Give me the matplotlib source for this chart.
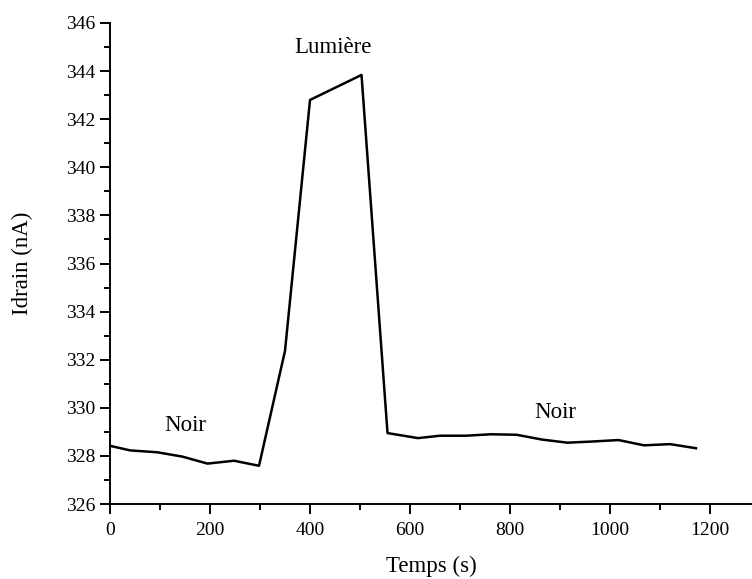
import matplotlib
matplotlib.use('Agg')
import matplotlib.pyplot as plt
from matplotlib.ticker import MultipleLocator

# Temps (s) et courant de drain (nA)
temps = [0, 40, 95, 145, 195, 248, 298, 350, 400, 503, 555, 616, 660, 712,
         762, 813, 864, 915, 966, 1017, 1068, 1120, 1172]
idrain = [328.42, 328.23, 328.15, 327.97, 327.68, 327.80, 327.59, 332.37,
          342.80, 343.84, 328.95, 328.74, 328.84, 328.84, 328.90, 328.88,
          328.68, 328.55, 328.60, 328.66, 328.44, 328.49, 328.32]

labels = ['Noir', 'Lumière', 'Noir']
label_x = [150, 446, 891]
label_y = [329.25, 345.0, 329.8]

plt.rcParams['font.family'] = ['Liberation Serif', 'DejaVu Serif']

fig = plt.figure(figsize=(7.52, 5.79), dpi=100)
ax = fig.add_axes([0.1463, 0.1295, 0.8537, 0.8308])
ax.plot(temps, idrain, color='black', linewidth=1.8)

for txt, x, y in zip(labels, label_x, label_y):
    ax.text(x, y, txt, fontsize=16.5, ha='center', va='center')

ax.set_xlim(0, 1284)
ax.set_ylim(326, 346)
ax.xaxis.set_major_locator(MultipleLocator(200))
ax.xaxis.set_minor_locator(MultipleLocator(100))
ax.yaxis.set_major_locator(MultipleLocator(2))
ax.yaxis.set_minor_locator(MultipleLocator(1))

ax.spines['top'].set_visible(False)
ax.spines['right'].set_visible(False)
ax.spines['left'].set_linewidth(1.4)
ax.spines['bottom'].set_linewidth(1.4)
ax.tick_params(which='major', direction='out', length=7, width=1.4, labelsize=14)
ax.tick_params(which='minor', direction='out', length=4, width=1.4)
ax.tick_params(axis='x', which='major', pad=6)

ax.set_xlabel('Temps (s)', fontsize=16.5, labelpad=12)
ax.set_ylabel('Idrain (nA)', fontsize=16.5, labelpad=24)

fig.savefig('out.png', dpi=100)
plt.close(fig)
